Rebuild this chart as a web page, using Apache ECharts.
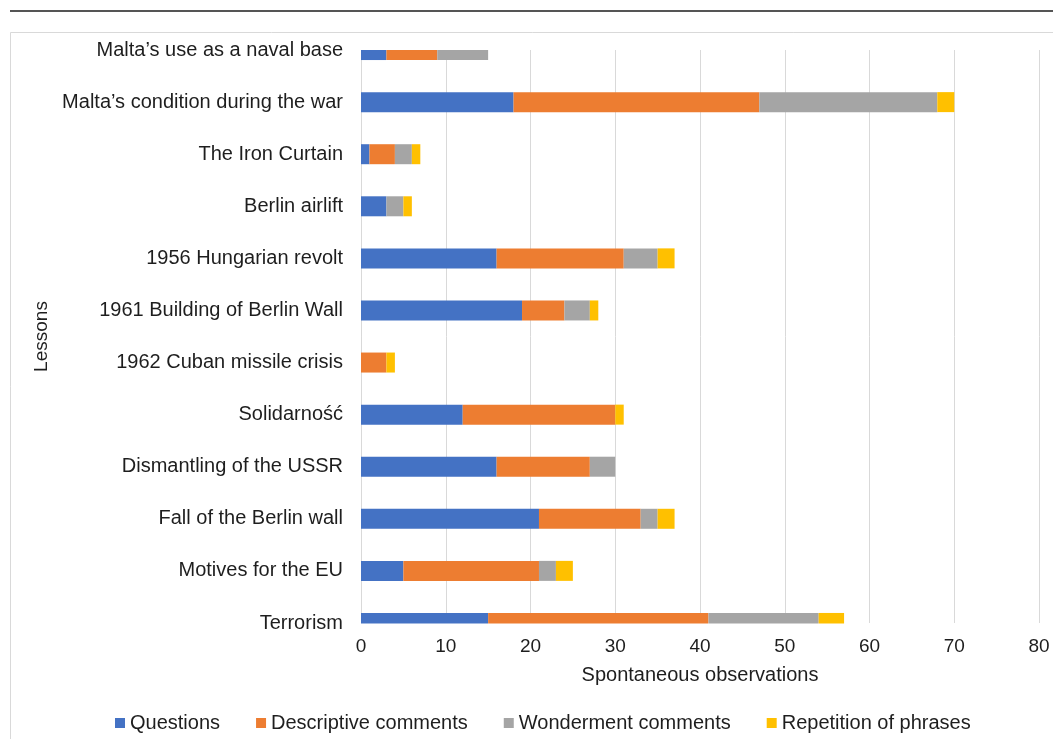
<!DOCTYPE html>
<html>
<head>
<meta charset="utf-8">
<script src="https://cdn.jsdelivr.net/npm/echarts@6/dist/echarts.min.js"></script>
<style>
  html, body { margin: 0; padding: 0; background: #fff; }
  #chart { width: 1053px; height: 739px; }
</style>
</head>
<body>
<div id="chart"></div>
<script>
// lessons, top to bottom
const lessons = [
  'Malta\u2019s use as a naval base',
  'Malta\u2019s condition during the war',
  'The Iron Curtain',
  'Berlin airlift',
  '1956 Hungarian revolt',
  '1961 Building of Berlin Wall',
  '1962 Cuban missile crisis',
  'Solidarność',
  'Dismantling of the USSR',
  'Fall of the Berlin wall',
  'Motives for the EU',
  'Terrorism'
]

const questions   = [3, 18, 1, 3, 16, 19, 0, 12, 16, 21, 5, 15]
const descriptive = [6, 29, 3, 0, 15, 5, 3, 18, 11, 12, 16, 26]
const wonderment  = [6, 21, 2, 2, 4, 3, 0, 0, 3, 2, 2, 13]
const repetition  = [0, 2, 1, 1, 2, 1, 1, 1, 0, 2, 2, 3]

const seriesNames = ['Questions', 'Descriptive comments', 'Wonderment comments', 'Repetition of phrases']
const seriesColors = ['#4472C4', '#ED7D31', '#A5A5A5', '#FFC000']
const xTicks = { min: 0, max: 80, interval: 10 }

const font = 'Liberation Sans, Arial, sans-serif'
const txt = '#1e1e1e'
const chart = echarts.init(document.getElementById('chart'))

// bars live in a second (taller) grid so the first and last rows sit on the
// plot edges like the original, the overhang is masked below
const makeSeries = (name, data, i) => ({
  name: name,
  type: 'bar',
  stack: 'total',
  xAxisIndex: 1,
  yAxisIndex: 1,
  data: data,
  barWidth: 20,
  itemStyle: { color: seriesColors[i] },
  emphasis: { disabled: true }
})

const option = {
  animation: false,
  backgroundColor: '#ffffff',
  textStyle: { fontFamily: font },
  graphic: [
    // top rule across the page
    { type: 'rect', shape: { x: 10, y: 10, width: 1043, height: 2 }, style: { fill: '#555555' }, z: 0 },
    // chart frame
    { type: 'rect', shape: { x: 10.5, y: 32.5, width: 1060, height: 720 },
      style: { fill: 'none', stroke: '#d9d9d9', lineWidth: 1 }, z: -1 },
    // masks for the bar overhang above / below the plot area
    { type: 'rect', shape: { x: 356, y: 33, width: 697, height: 17 }, style: { fill: '#ffffff' }, z: 10 },
    { type: 'rect', shape: { x: 356, y: 623.5, width: 697, height: 10 }, style: { fill: '#ffffff' }, z: 10 }
  ],
  grid: [
    { left: 361, right: 14, top: 50, bottom: 116 },
    { left: 361, right: 14, top: 24, bottom: 90 }
  ],
  legend: {
    data: seriesNames,
    top: 708,
    left: 110,
    itemWidth: 10,
    itemHeight: 10,
    itemGap: 36,
    icon: 'rect',
    textStyle: { fontSize: 20, color: txt, fontFamily: font }
  },
  xAxis: [{
    type: 'value',
    gridIndex: 0,
    min: xTicks.min,
    max: xTicks.max,
    interval: xTicks.interval,
    name: 'Spontaneous observations',
    nameLocation: 'middle',
    nameGap: 42,
    nameTextStyle: { fontSize: 20, color: txt },
    axisLine: { show: false },
    axisTick: { show: false },
    axisLabel: { fontSize: 19, color: txt, margin: 14 },
    splitLine: { lineStyle: { color: '#d9d9d9', width: 1 } }
  }, {
    type: 'value',
    gridIndex: 1,
    min: xTicks.min,
    max: xTicks.max,
    interval: xTicks.interval,
    show: false
  }],
  yAxis: [{
    type: 'category',
    gridIndex: 0,
    data: lessons,
    inverse: true,
    boundaryGap: false,
    name: 'Lessons',
    nameLocation: 'middle',
    nameRotate: 90,
    nameGap: 297,
    nameTextStyle: { fontSize: 19, color: txt },
    axisLine: { show: true, lineStyle: { color: '#d9d9d9' } },
    axisTick: { show: false },
    axisLabel: { fontSize: 20, color: txt, margin: 18 },
    splitLine: { show: false }
  }, {
    type: 'category',
    gridIndex: 1,
    data: lessons,
    inverse: true,
    show: false
  }],
  series: [
    makeSeries(seriesNames[0], questions, 0),
    makeSeries(seriesNames[1], descriptive, 1),
    makeSeries(seriesNames[2], wonderment, 2),
    makeSeries(seriesNames[3], repetition, 3)
  ]
}

chart.setOption(option)
</script>
</body>
</html>
